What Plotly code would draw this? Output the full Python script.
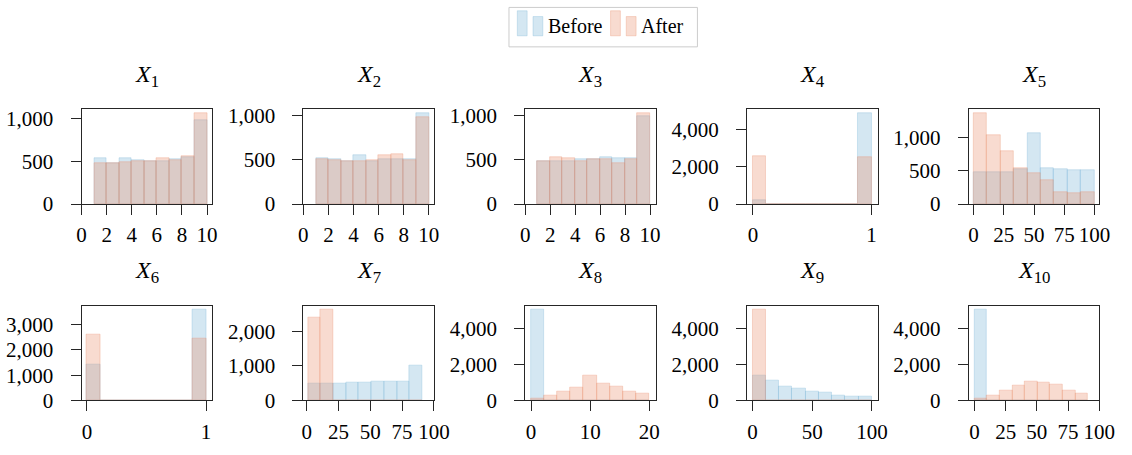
import numpy as np
import plotly.graph_objects as go

W, H = 1132, 455
FONT = "Liberation Serif"
AX = "#262626"

# Bin range (lower, upper) of the nine histogram bins per feature
x1_bins = (1, 10)
x2_bins = (1, 10)
x3_bins = (1, 10)
x4_bins = (0, 1)
x5_bins = (0, 100)
x6_bins = (0, 1)
x7_bins = (1, 91)
x8_bins = (0, 20)
x9_bins = (0, 100)
x10_bins = (0, 91)

# Counts per bin before / after the transformation
x1_before = [530, 475, 538, 515, 500, 500, 519, 541, 981]
x1_after = [475, 475, 493, 500, 495, 538, 508, 553, 1057]
x2_before = [512, 500, 482, 545, 487, 500, 502, 502, 1022]
x2_after = [508, 495, 480, 484, 488, 549, 564, 491, 975]
x3_before = [490, 480, 487, 512, 512, 534, 523, 518, 999]
x3_after = [490, 534, 523, 487, 510, 505, 468, 512, 1028]
x4_before = [223, 0, 0, 0, 0, 0, 0, 0, 4859]
x4_after = [2575, 0, 0, 0, 0, 0, 0, 0, 2507]
x5_before = [485, 485, 485, 520, 1058, 534, 524, 515, 510]
x5_after = [1364, 1034, 801, 535, 466, 364, 175, 170, 175]
x6_before = [1435, 0, 0, 0, 0, 0, 0, 0, 3594]
x6_after = [2604, 0, 0, 0, 0, 0, 0, 0, 2451]
x7_before = [491, 491, 491, 518, 518, 546, 537, 537, 1009]
x7_after = [2389, 2620, 0, 0, 0, 0, 0, 0, 0]
x8_before = [5054, 0, 0, 0, 0, 0, 0, 0, 0]
x8_after = [80, 286, 464, 697, 1393, 911, 750, 500, 375]
x9_before = [1393, 1125, 768, 679, 500, 429, 286, 196, 214]
x9_after = [5054, 0, 0, 0, 0, 0, 0, 0, 0]
x10_before = [5054, 0, 0, 0, 0, 0, 0, 0, 0]
x10_after = [80, 286, 536, 804, 1036, 982, 857, 536, 375]

# Axis settings per panel
x_ranges = [(0, 10.4), (0, 10.4), (0, 10.45), (-0.05, 1.05), (-4, 104),
             (-0.045, 1.05), (-2.6, 100), (-1, 21.1), (-4.7, 104.7), (-4.5, 100)]
x_ticks = [[0, 2, 4, 6, 8, 10]] * 3 + [[0, 1], [0, 25, 50, 75, 100], [0, 1],
                                       [0, 25, 50, 75, 100], [0, 10, 20],
                                       [0, 50, 100], [0, 25, 50, 75, 100]]
y_dticks = [500, 500, 500, 2000, 500, 1000, 1000, 2000, 2000, 2000]

bins = [x1_bins, x2_bins, x3_bins, x4_bins, x5_bins,
        x6_bins, x7_bins, x8_bins, x9_bins, x10_bins]
befores = [x1_before, x2_before, x3_before, x4_before, x5_before,
           x6_before, x7_before, x8_before, x9_before, x10_before]
afters = [x1_after, x2_after, x3_after, x4_after, x5_after,
          x6_after, x7_after, x8_after, x9_after, x10_after]

BEFORE_FILL = "rgba(129,186,218,0.34)"
AFTER_FILL = "rgba(234,142,108,0.32)"

# Panel boxes in pixels
col_left = [78, 304, 530, 756, 982]
box_w = 133
row_top = [108.3, 312.3]
box_h = 98.5


def px(x):
    return x / W


def py(y):
    return 1 - y / H


fig = go.Figure()
layout = {}
annotations = []

for i in range(10):
    r, c = divmod(i, 5)
    s = "" if i == 0 else str(i + 1)
    lo, hi = bins[i]
    edges = np.linspace(lo, hi, len(befores[i]) + 1)
    centers = (edges[:-1] + edges[1:]) / 2
    width = edges[1] - edges[0]
    for vals, col in ((befores[i], BEFORE_FILL), (afters[i], AFTER_FILL)):
        fig.add_trace(go.Bar(
            x=centers, y=vals, width=width,
            marker=dict(color=col, line=dict(color=col, width=1)),
            xaxis="x" + s, yaxis="y" + s, showlegend=False,
        ))

    x0, x1 = col_left[c], col_left[c] + box_w
    ytop, ybot = row_top[r], row_top[r] + box_h
    ymax = 1.045 * max(max(befores[i]), max(afters[i]))
    common = dict(showline=True, linecolor=AX, linewidth=1, mirror=True,
                  ticks="outside", ticklen=10, tickcolor=AX, tickwidth=1,
                  showgrid=False, zeroline=False,
                  tickfont=dict(family=FONT, size=21, color="black"))
    layout["xaxis" + s] = dict(common, domain=[px(x0), px(x1)],
                               range=list(x_ranges[i]),
                               tickvals=x_ticks[i], anchor="y" + s,
                               ticklabelstandoff=2)
    layout["yaxis" + s] = dict(common, domain=[py(ybot), py(ytop)],
                               range=[0, ymax], dtick=y_dticks[i], tick0=0,
                               tickformat=",d", anchor="x" + s,
                               ticklabelstandoff=13)
    annotations.append(dict(
        text=f"<i>X</i><sub>{i + 1}</sub>", xref="paper", yref="paper",
        x=px((x0 + x1) / 2), y=py(ytop - 35), xanchor="center",
        yanchor="middle", showarrow=False,
        font=dict(family=FONT, size=24, color="black"),
    ))

# Legend: framed box with two-bar glyphs
shapes = [dict(type="rect", xref="paper", yref="paper",
               x0=px(513.5), x1=px(705.5), y0=py(43.5), y1=py(2.5),
               line=dict(color="#cccccc", width=1), fillcolor="white")]
for gx, col in ((522, BEFORE_FILL), (617, AFTER_FILL)):
    shapes.append(dict(type="rect", xref="paper", yref="paper",
                       x0=px(gx), x1=px(gx + 10), y0=py(32), y1=py(6),
                       line=dict(color=col, width=1), fillcolor=col))
    shapes.append(dict(type="rect", xref="paper", yref="paper",
                       x0=px(gx + 16), x1=px(gx + 26), y0=py(32), y1=py(12),
                       line=dict(color=col, width=1), fillcolor=col))
for tx, label in ((551, "Before"), (646, "After")):
    annotations.append(dict(
        text=label, xref="paper", yref="paper", x=px(tx), y=py(22),
        xanchor="left", yanchor="middle", showarrow=False,
        font=dict(family=FONT, size=20, color="black"),
    ))

fig.update_layout(
    width=W, height=H, margin=dict(l=0, r=0, t=0, b=0),
    paper_bgcolor="white", plot_bgcolor="white",
    barmode="overlay", bargap=0,
    annotations=annotations, shapes=shapes, **layout,
)

fig.write_html("out.html")
